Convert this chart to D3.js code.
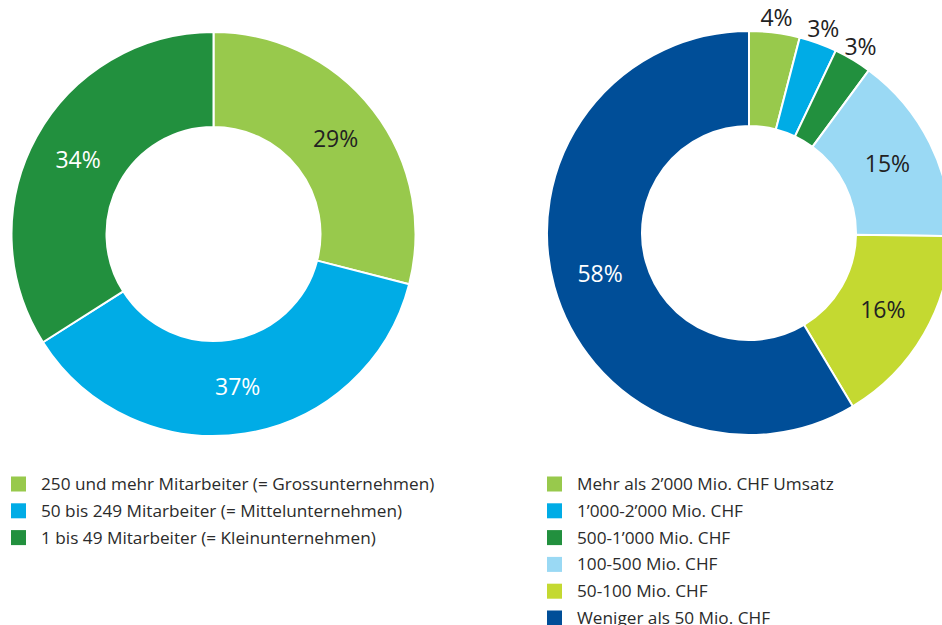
<!DOCTYPE html>
<html>
<head>
<meta charset="utf-8">
<script src="https://cdn.jsdelivr.net/npm/d3@7"></script>
<style>
  body { margin: 0; background: #fff; }
  svg { display: block; font-family: "Open Sans", "Noto Sans", sans-serif; }
  .label { font-size: 23px; }
  .legend text { font-size: 17.2px; fill: #2b2b2b; }
</style>
</head>
<body>
<svg width="942" height="625"></svg>
<script>
// left: Mitarbeiter
const sizeCategories = [
  "250 und mehr Mitarbeiter (= Grossunternehmen)",
  "50 bis 249 Mitarbeiter (= Mittelunternehmen)",
  "1 bis 49 Mitarbeiter (= Kleinunternehmen)"
]
const sizeValues = [29, 37, 34]
const sizeColors = ["#98c94c", "#00ace6", "#22903e"]
const sizeTextColors = ["#222", "#fff", "#fff"]

// right: Umsatz
const revenueCategories = [
  "Mehr als 2\u2019000 Mio. CHF Umsatz",
  "1\u2019000-2\u2019000 Mio. CHF",
  "500-1\u2019000 Mio. CHF",
  "100-500 Mio. CHF",
  "50-100 Mio. CHF",
  "Weniger als 50 Mio. CHF"
]
const revenueValues = [4, 3, 3, 15, 16, 58]
const revenueColors = ["#98c94c", "#00ace6", "#22903e", "#9ad9f4", "#c4d931", "#004e98"]
const revenueTextColors = ["#222", "#222", "#222", "#222", "#222", "#fff"]

const svg = d3.select("svg")

const pie = d3.pie().sort(null).value(d => d.value)
const arc = d3.arc().innerRadius(107).outerRadius(202)
const labelArc = d3.arc().innerRadius(107).outerRadius(202)
const outerLabelArc = d3.arc().innerRadius(217).outerRadius(217)

function donut(cx, cy, cats, values, colors, textColors) {
  const data = cats.map((c, i) => ({ cat: c, value: values[i], color: colors[i], text: textColors[i] }))
  const g = svg.append("g").attr("transform", `translate(${cx}, ${cy})`)

  g.selectAll("path")
    .data(pie(data))
    .enter()
    .append("path")
    .attr("d", arc)
    .attr("fill", d => d.data.color)
    .attr("stroke", "#fff")
    .attr("stroke-width", 2)

  g.selectAll("text.label")
    .data(pie(data))
    .enter()
    .append("text")
    .attr("class", "label")
    .attr("transform", d => {
      const p = d.data.value < 5 ? outerLabelArc.centroid(d) : labelArc.centroid(d)
      return `translate(${p[0]}, ${p[1]})`
    })
    .attr("text-anchor", "middle")
    .attr("dy", "0.35em")
    .attr("fill", d => d.data.text)
    .text(d => d.data.value + "%")
}

function legend(x, y, cats, colors) {
  const rows = svg.append("g")
    .attr("class", "legend")
    .selectAll("g")
    .data(cats)
    .enter()
    .append("g")
    .attr("transform", (d, i) => `translate(${x}, ${y + i * 26.8})`)

  rows.append("rect")
    .attr("x", 0)
    .attr("y", -7.5)
    .attr("width", 15)
    .attr("height", 15)
    .attr("fill", (d, i) => colors[i])

  rows.append("text")
    .attr("x", 30)
    .attr("y", 0)
    .attr("dy", "0.35em")
    .text(d => d)
}

donut(213.5, 234, sizeCategories, sizeValues, sizeColors, sizeTextColors)
donut(749, 233, revenueCategories, revenueValues, revenueColors, revenueTextColors)

legend(11, 484, sizeCategories, sizeColors)
legend(547, 484, revenueCategories, revenueColors)
</script>
</body>
</html>
